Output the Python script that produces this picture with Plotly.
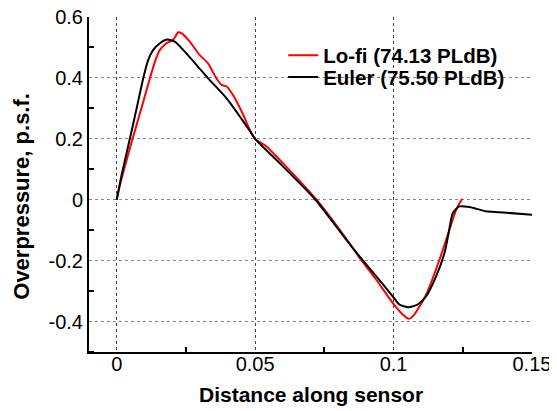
import plotly.graph_objects as go

# Euler curve (black)
euler_x = [0, 0.0018, 0.0048, 0.0072, 0.0096, 0.0114, 0.0132, 0.0156, 0.0183, 0.021,
           0.024, 0.0288, 0.0336, 0.0397, 0.0478, 0.05, 0.0589, 0.0718, 0.0829, 0.0877,
           0.0937, 0.0997, 0.1021, 0.1054, 0.1087, 0.1118, 0.1154, 0.1184, 0.1199, 0.1214,
           0.1238, 0.1274, 0.1334, 0.1382, 0.15]
euler_y = [0, 0.082, 0.202, 0.30, 0.399, 0.459, 0.492, 0.514, 0.526, 0.519,
           0.492, 0.443, 0.393, 0.333, 0.23, 0.2, 0.12, 0.0, -0.131, -0.186,
           -0.251, -0.317, -0.344, -0.353, -0.344, -0.317, -0.251, -0.175, -0.109, -0.044,
           -0.022, -0.024, -0.038, -0.041, -0.049]

# Lo-fi curve (red)
lofi_x = [0, 0.0012, 0.0048, 0.0096, 0.012, 0.0138, 0.0156, 0.018, 0.0204, 0.0222,
          0.0234, 0.0264, 0.030, 0.033, 0.036, 0.0379, 0.0397, 0.042, 0.0457, 0.0478,
          0.05, 0.0541, 0.0589, 0.0722, 0.0829, 0.0877, 0.0937, 0.0997, 0.1033, 0.1055,
          0.1075, 0.1118, 0.1166, 0.1202, 0.1226, 0.1248]
lofi_y = [0, 0.049, 0.17, 0.322, 0.399, 0.453, 0.492, 0.514, 0.525, 0.55,
          0.547, 0.519, 0.475, 0.448, 0.399, 0.377, 0.372, 0.344, 0.279, 0.235,
          0.2, 0.175, 0.131, 0.0, -0.128, -0.19, -0.262, -0.339, -0.377, -0.391,
          -0.377, -0.311, -0.197, -0.098, -0.033, 0.003]

x_ticks = [0, 0.05, 0.1, 0.15]
x_ticklabels = ["0", "0.05", "0.1", "0.15"]
y_ticks = [-0.4, -0.2, 0, 0.2, 0.4, 0.6]
y_ticklabels = ["-0.4", "-0.2", "0", "0.2", "0.4", "0.6"]

FONT = "Liberation Sans, Arial, Helvetica, sans-serif"

fig = go.Figure()
fig.add_trace(go.Scatter(x=lofi_x, y=lofi_y, mode="lines", name="<b>Lo-fi (74.13 PLdB)</b>",
                         legend="legend",
                         line=dict(color="#ff0000", width=2, shape="spline", smoothing=0.6)))
fig.add_trace(go.Scatter(x=euler_x, y=euler_y, mode="lines", name="<b>Euler (75.50 PLdB)</b>",
                         legend="legend2",
                         line=dict(color="#000000", width=2, shape="spline", smoothing=0.6)))

leg_common = dict(xanchor="left", yanchor="top", bgcolor="rgba(0,0,0,0)",
                  font=dict(size=20.5, family=FONT), itemwidth=30)

fig.update_layout(
    width=549, height=403,
    margin=dict(l=80.7, r=25, t=9, b=58.5, autoexpand=False),
    paper_bgcolor="white", plot_bgcolor="white",
    font=dict(family=FONT, size=20, color="black"),
    showlegend=True,
    legend=dict(x=0.4383, y=0.945, **leg_common),
    legend2=dict(x=0.4383, y=0.880, **leg_common),
    xaxis=dict(range=[-0.01, 0.15001], tickvals=x_ticks, ticktext=x_ticklabels,
               showgrid=True, gridcolor="#444", griddash="dot", gridwidth=1,
               zeroline=False, showline=True, linecolor="black", linewidth=2,
               ticks="", tickfont=dict(size=20), ticklabelstandoff=-7,
               ticklabeloverflow="allow", automargin=False,
               minor=dict(tick0=0.025, dtick=0.05, ticks="inside", ticklen=5,
                          tickwidth=1.5, tickcolor="black", showgrid=False)),
    yaxis=dict(range=[-0.5, 0.6001], tickvals=y_ticks, ticktext=y_ticklabels,
               showgrid=True, gridcolor="#888", griddash="dot", gridwidth=1,
               zeroline=False, showline=True, linecolor="black", linewidth=2,
               ticks="", tickfont=dict(size=20), ticklabelstandoff=0,
               ticklabeloverflow="allow", automargin=False,
               minor=dict(tick0=0.1, dtick=0.2, ticks="inside", ticklen=5,
                          tickwidth=1.5, tickcolor="black", showgrid=False)),
    annotations=[
        dict(text="<b>Distance along sensor</b>", xref="paper", yref="paper",
             x=0.5, y=0, yshift=-42, xanchor="center", yanchor="middle",
             showarrow=False, font=dict(size=21, family=FONT)),
        dict(text="<b>Overpressure, p.s.f.</b>", xref="paper", yref="paper",
             x=0, y=0.4635, xshift=-67, xanchor="center", yanchor="middle",
             textangle=-90, showarrow=False, font=dict(size=22, family=FONT)),
    ],
)

fig.write_html("out.html")
